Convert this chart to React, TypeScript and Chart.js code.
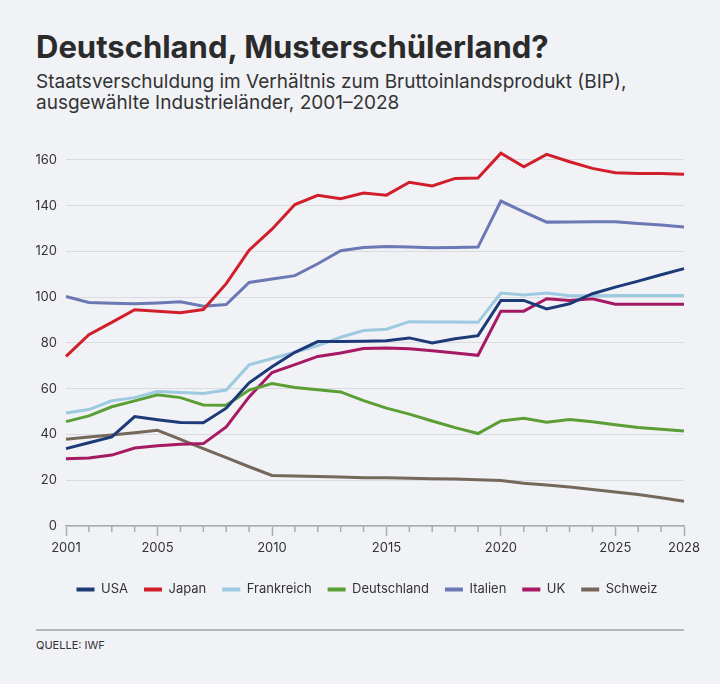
import { useEffect, useRef } from "react";
import { Chart, registerables } from "chart.js";
import type { ChartConfiguration, Plugin } from "chart.js";

Chart.register(...registerables);

// Jahre 2001–2028
const YEARS = [
  "2001","2002","2003","2004","2005","2006","2007","2008","2009","2010",
  "2011","2012","2013","2014","2015","2016","2017","2018","2019","2020",
  "2021","2022","2023","2024","2025","2026","2027","2028",
];
const X_TICK_LABELS = ["2001", "2005", "2010", "2015", "2020", "2025", "2028"];
const Y_TICKS = [0, 20, 40, 60, 80, 100, 120, 140, 160];

// Schulden in % des BIP
const USA = [33.8, 36.4, 38.9, 47.8, 46.4, 45.2, 45.1, 51.5, 62.6, 69.6, 75.9, 80.6, 80.6, 80.7, 81.0, 82.2, 80.0, 81.8, 83.2, 98.6, 98.6, 94.9, 97.1, 101.5, 104.4, 107.0, 109.8, 112.5];
const JAPAN = [74.1, 83.6, 89.0, 94.5, 93.9, 93.2, 94.6, 105.9, 120.5, 129.7, 140.5, 144.5, 143.0, 145.5, 144.6, 150.2, 148.6, 151.9, 152.1, 162.9, 157.0, 162.4, 159.2, 156.3, 154.4, 154.1, 154.0, 153.7];
const FRANKREICH = [49.4, 50.9, 54.7, 56.1, 58.8, 58.3, 57.9, 59.4, 70.4, 73.2, 75.9, 78.8, 82.5, 85.4, 86.0, 89.3, 89.2, 89.1, 89.0, 101.8, 101.0, 101.8, 100.6, 100.6, 100.7, 100.7, 100.7, 100.7];
const DEUTSCHLAND = [45.6, 48.1, 52.1, 54.7, 57.3, 56.1, 52.9, 52.8, 59.4, 62.3, 60.5, 59.5, 58.6, 54.8, 51.5, 48.9, 45.9, 43.0, 40.4, 45.9, 47.1, 45.3, 46.5, 45.6, 44.2, 43.0, 42.3, 41.5];
const ITALIEN = [100.3, 97.7, 97.4, 97.1, 97.5, 98.0, 96.0, 96.8, 106.4, 107.9, 109.4, 114.6, 120.3, 121.7, 122.2, 121.9, 121.6, 121.7, 121.9, 142.0, 137.3, 132.8, 132.9, 133.0, 133.0, 132.2, 131.5, 130.7];
const UK = [29.4, 29.7, 31.0, 34.1, 35.1, 35.7, 36.0, 43.3, 56.4, 67.1, 70.5, 74.1, 75.6, 77.6, 77.8, 77.5, 76.6, 75.6, 74.6, 93.9, 93.9, 99.3, 98.6, 99.3, 96.9, 96.9, 96.9, 96.9];
const SCHWEIZ = [37.9, 38.9, 39.8, 40.8, 41.8, 37.9, 33.8, 29.9, 25.9, 22.1, 21.8, 21.6, 21.4, 21.1, 21.1, 20.9, 20.7, 20.5, 20.2, 19.9, 18.7, 17.9, 17.0, 16.0, 14.9, 13.8, 12.3, 10.8];

const SERIES = [
  { label: "USA", data: USA, color: "#1d3a78" },
  { label: "Japan", data: JAPAN, color: "#d01f2b" },
  { label: "Frankreich", data: FRANKREICH, color: "#9ecae1" },
  { label: "Deutschland", data: DEUTSCHLAND, color: "#5b9e36" },
  { label: "Italien", data: ITALIEN, color: "#6b78b4" },
  { label: "UK", data: UK, color: "#a51a63" },
  { label: "Schweiz", data: SCHWEIZ, color: "#75685b" },
];

const FONT = "Inter, 'Noto Sans', sans-serif";
const BG = "#f0f2f6";
const AXIS = "#a9abb0";

// kurze Tick-Striche für Jahre ohne Beschriftung
const minorTicks: Plugin<"line"> = {
  id: "minorTicks",
  afterLayout(chart) {
    // Legende etwas nach rechts, wie im Original
    const lg = chart.legend as any;
    if (lg) {
      lg.left += 7;
      lg.right += 7;
    }
  },
  afterDraw(chart) {
    const s = chart.scales.x;
    const { ctx } = chart;
    ctx.save();
    ctx.strokeStyle = AXIS;
    ctx.lineWidth = 1.5;
    YEARS.forEach((y, i) => {
      if (X_TICK_LABELS.includes(y)) return;
      const px = s.getPixelForTick(i);
      ctx.beginPath();
      ctx.moveTo(px, s.top);
      ctx.lineTo(px, s.top + 6);
      ctx.stroke();
    });
    ctx.restore();
  },
};

export default function App() {
  const canvasRef = useRef<HTMLCanvasElement | null>(null);

  useEffect(() => {
    const ctx = canvasRef.current!.getContext("2d")!;
    const config: ChartConfiguration<"line", number[], string> = {
      type: "line",
      data: {
        labels: YEARS,
        datasets: SERIES.map((s) => ({
          label: s.label,
          data: s.data,
          borderColor: s.color,
          backgroundColor: s.color,
          borderWidth: 3,
          pointRadius: 0,
          tension: 0,
        })),
      },
      options: {
        responsive: true,
        maintainAspectRatio: false,
        animation: false,
        layout: { padding: { top: 17, right: 36, bottom: 4, left: 0 } },
        plugins: {
          tooltip: { enabled: false },
          legend: {
            position: "bottom",
            labels: {
              boxWidth: 18,
              boxHeight: 4,
              padding: 16,
              color: "#333",
              font: { family: FONT, size: 13 },
              generateLabels(chart) {
                return Chart.defaults.plugins.legend.labels
                  .generateLabels(chart)
                  .map((l) => ({ ...l, fillStyle: l.strokeStyle, lineWidth: 0 }));
              },
            },
          },
        },
        scales: {
          x: {
            type: "category",
            offset: false,
            afterFit(scale) {
              scale.height = 41;
            },
            grid: {
              drawOnChartArea: false,
              drawTicks: true,
              tickLength: 10,
              tickWidth: 1.5,
              tickColor: (c) => (X_TICK_LABELS.includes(YEARS[c.index]) ? AXIS : "rgba(0,0,0,0)"),
            },
            border: { display: true, color: AXIS, width: 1.5 },
            ticks: {
              autoSkip: false,
              maxRotation: 0,
              padding: 4,
              color: "#333",
              font: { family: FONT, size: 13 },
              callback(_v, i) {
                return X_TICK_LABELS.includes(YEARS[i]) ? YEARS[i] : "";
              },
            },
          },
          y: {
            min: 0,
            max: 170,
            afterFit(scale) {
              scale.width = 30;
            },
            afterBuildTicks(scale) {
              scale.ticks = Y_TICKS.map((v) => ({ value: v }));
            },
            grid: { color: "#d9dbe0", lineWidth: 1, drawTicks: false },
            border: { display: false },
            ticks: {
              padding: 9,
              color: "#333",
              font: { family: FONT, size: 13 },
            },
          },
        },
      },
      plugins: [minorTicks],
    };
    const chart = new Chart(ctx, config);
    return () => chart.destroy();
  }, []);

  return (
    <div style={{ position: "absolute", left: 0, top: 0, width: 720, height: 684, background: BG, fontFamily: FONT, color: "#2b2b2b", overflow: "hidden" }}>
      <div style={{ position: "absolute", left: 36, top: 32, fontSize: 31, lineHeight: "30px", fontWeight: 700, whiteSpace: "nowrap" }}>
        Deutschland, Musterschülerland?
      </div>
      <div style={{ position: "absolute", left: 36, top: 72, fontSize: 19, lineHeight: "20.5px", color: "#333", whiteSpace: "nowrap" }}>
        Staatsverschuldung im Verhältnis zum Bruttoinlandsprodukt (BIP),
        <br />
        ausgewählte Industrieländer, 2001–2028
      </div>
      <div style={{ position: "absolute", left: 36, top: 120, width: 684, height: 490 }}>
        <canvas ref={canvasRef} />
      </div>
      <div style={{ position: "absolute", left: 36, top: 629, width: 648, height: 2, background: "#b4b6bb" }} />
      <div style={{ position: "absolute", left: 36, top: 640, fontSize: 11, lineHeight: "11px", color: "#333" }}>
        QUELLE: IWF
      </div>
    </div>
  );
}
